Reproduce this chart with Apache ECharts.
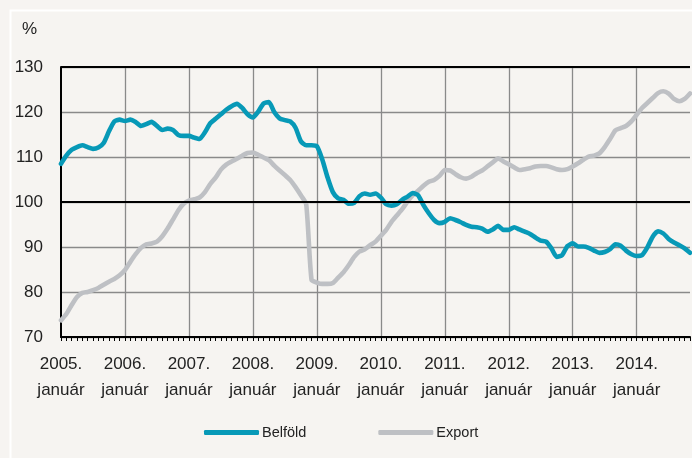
<!DOCTYPE html>
<html>
<head>
<meta charset="utf-8">
<script src="https://cdn.jsdelivr.net/npm/echarts@6/dist/echarts.min.js"></script>
<style>
html,body{margin:0;padding:0;background:#f6f4f1;}
#c{width:692px;height:458px;}
</style>
</head>
<body>
<div id="c"></div>
<script>
// Years covered (monthly data, January 2005 – November 2014)
const years = [2005, 2006, 2007, 2008, 2009, 2010, 2011, 2012, 2013, 2014];
const monthLabel = 'január';
const yTicks = [70, 80, 90, 100, 110, 120, 130];

// Belföld (domestic) index, %
const belfold = [
  108.5, 110.3, 111.6, 112.2, 112.6, 112.2, 111.8, 112.1, 113.1, 115.7, 117.9, 118.3,
  118.0, 118.3, 117.8, 116.9, 117.3, 117.8, 116.9, 116.0, 116.3, 116.0, 114.9, 114.7,
  114.7, 114.3, 114.0, 115.5, 117.5, 118.5, 119.5, 120.5, 121.3, 121.8, 120.9, 119.5,
  118.8, 120.1, 121.9, 122.2, 120.0, 118.6, 118.2, 117.9, 116.5, 113.5, 112.6, 112.6,
  112.4, 109.5, 105.5, 102.2, 100.8, 100.5, 99.6, 99.8, 101.3, 101.9, 101.6, 101.9,
  101.0, 99.5, 99.2, 99.5, 100.5, 101.2, 102.0, 101.5, 99.3, 97.5, 96.0, 95.3,
  95.6, 96.4, 96.0, 95.5, 94.9, 94.5, 94.4, 94.1, 93.4, 93.9, 94.7, 93.8,
  93.8, 94.4, 93.9, 93.4, 92.9, 92.1, 91.4, 91.2, 89.7, 87.8, 88.2, 90.2,
  90.8, 90.1, 90.1, 89.8, 89.2, 88.7, 88.9, 89.5, 90.6, 90.3, 89.2, 88.4,
  88.0, 88.2, 89.9, 92.3, 93.5, 93.0, 91.8, 91.0, 90.4, 89.7, 88.7
];

// Export index, %
const exportVals = [
  73.7, 75.1, 77.1, 78.9, 79.8, 80.0, 80.4, 80.9, 81.6, 82.3, 82.9, 83.7,
  84.9, 86.7, 88.4, 89.8, 90.6, 90.8, 91.2, 92.4, 94.1, 96.1, 98.1, 99.6,
  100.3, 100.6, 101.0, 102.2, 104.0, 105.4, 107.2, 108.3, 109.0, 109.6, 110.3, 110.9,
  111.0, 110.5, 109.9, 109.3, 108.1, 107.0, 106.0, 104.9, 103.3, 101.5, 99.5, 82.7,
  82.1, 81.8, 81.8, 82.0, 83.2, 84.4, 86.0, 87.8, 89.0, 89.5, 90.4, 91.2,
  92.5, 93.8, 95.6, 97.0, 98.4, 100.1, 101.5, 102.5, 103.6, 104.5, 104.9, 105.8,
  107.1, 107.0, 106.2, 105.5, 105.2, 105.6, 106.4, 107.0, 107.9, 108.8, 109.7, 109.0,
  108.4, 107.7, 107.1, 107.3, 107.5, 107.9, 108.0, 108.0, 107.7, 107.3, 107.1, 107.3,
  107.9, 108.6, 109.4, 110.1, 110.3, 110.8, 112.2, 114.0, 115.9, 116.4, 116.9, 117.9,
  119.4, 120.9, 122.0, 123.1, 124.2, 124.6, 124.1, 122.9, 122.4, 122.9, 124.1
];

const seriesNames = ['Belföld', 'Export'];
const refLines = [100, 130];

const categories = [];
years.forEach(y => { for (let m = 1; m <= 12; m++) categories.push(y + '-' + m); });
categories.length = belfold.length;

const FONT = '"Liberation Sans", Arial, sans-serif';

const chart = echarts.init(document.getElementById('c'), null, {renderer: 'canvas'});
chart.setOption({
  backgroundColor: '#f6f4f1',
  animation: false,
  grid: {left: 61, right: 2, top: 67, bottom: 121, containLabel: false},
  graphic: [
    {type: 'polyline', silent: true, z: 0,
     shape: {points: [[10.5, 470], [10.5, 10.5], [700, 10.5]]},
     style: {stroke: '#ffffff', lineWidth: 2, fill: null}},
    {type: 'text', left: 22, top: 21,
     style: {text: '%', font: '17px ' + FONT, fill: '#222'}}
  ],
  legend: {
    data: seriesNames,
    left: 199, top: 420,
    icon: 'roundRect',
    itemWidth: 55, itemHeight: 5, itemGap: 72,
    textStyle: {fontFamily: FONT, fontSize: 14.5, color: '#222', padding: [0, 0, 0, -2]}
  },
  xAxis: {
    type: 'category',
    data: categories,
    boundaryGap: false,
    axisLine: {show: true, lineStyle: {color: '#000', width: 2}},
    axisTick: {show: true, interval: 0, length: 4, lineStyle: {color: '#000', width: 1}},
    splitLine: {show: true, interval: (i) => i % 12 === 0 && i > 0, lineStyle: {color: '#8a8a8a', width: 1.3}},
    axisLabel: {
      interval: (i) => i % 12 === 0,
      formatter: (v) => {
        const parts = v.split('-');
        return parts[0] + '.\n' + monthLabel;
      },
      fontFamily: FONT, fontSize: 17, color: '#222', lineHeight: 26, margin: 14
    }
  },
  yAxis: {
    type: 'value',
    min: yTicks[0], max: yTicks[yTicks.length - 1], interval: 10,
    axisLine: {show: true, lineStyle: {color: '#000', width: 2}},
    axisTick: {show: false},
    splitLine: {show: true, lineStyle: {color: '#8a8a8a', width: 1.3}},
    axisLabel: {fontFamily: FONT, fontSize: 17, color: '#222', margin: 18}
  },
  series: [
    {
      name: 'refs', type: 'line', data: [], z: 1, silent: true,
      markLine: {
        silent: true, symbol: 'none', label: {show: false},
        lineStyle: {color: '#000', width: 2, type: 'solid'},
        data: refLines.map(v => ({yAxis: v}))
      }
    },
    {
      name: seriesNames[1], type: 'line', data: exportVals, z: 3,
      showSymbol: false, symbol: 'none', smooth: 0.2,
      color: '#bec0c4',
      lineStyle: {color: '#bec0c4', width: 4.6, cap: 'round', join: 'round'}
    },
    {
      name: seriesNames[0], type: 'line', data: belfold, z: 4,
      showSymbol: false, symbol: 'none', smooth: 0.2,
      color: '#0799b7',
      lineStyle: {color: '#0799b7', width: 4.6, cap: 'round', join: 'round'}
    }
  ]
});
</script>
</body>
</html>
